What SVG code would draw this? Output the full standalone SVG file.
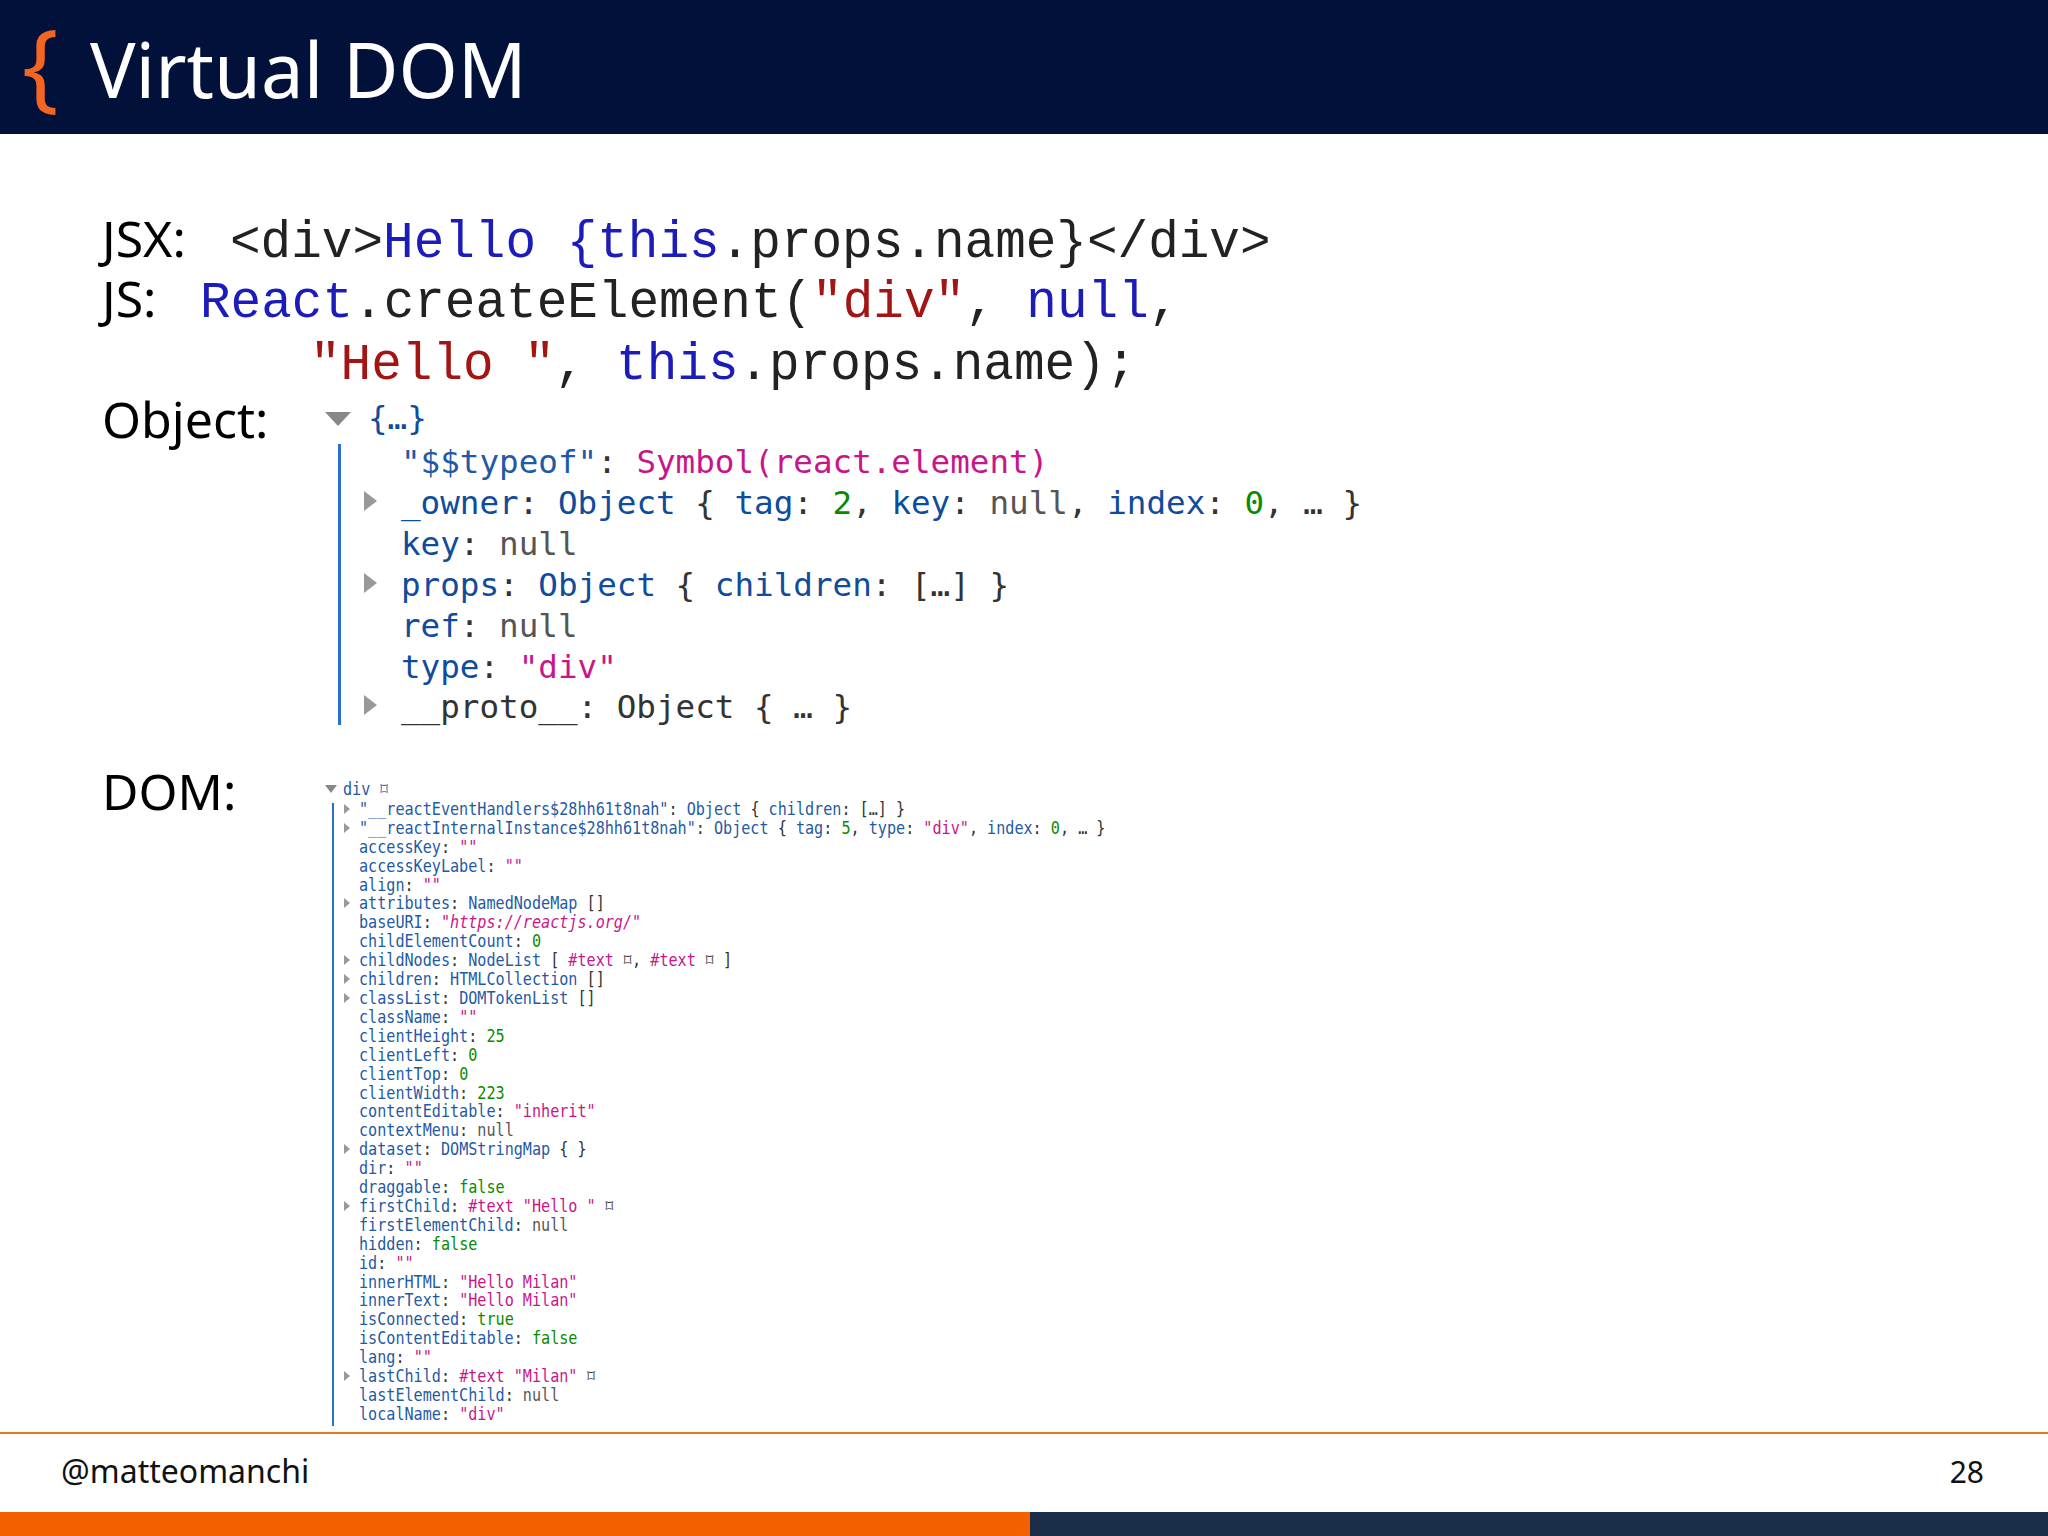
<svg xmlns="http://www.w3.org/2000/svg" width="2048" height="1536" viewBox="0 0 2048 1536">
<style>
.s{font-family:"Noto Sans","Liberation Sans",sans-serif;fill:#000;font-size:50px}
.c{font-family:"Liberation Mono","Courier New",monospace;font-size:51px;fill:#222}
.b{fill:#1c1cb8}.r{fill:#a31515}
.o{font-family:"DejaVu Sans Mono","Liberation Mono",monospace;font-size:32.6px;fill:#0f4c9c}
.d{font-family:"DejaVu Sans Mono","Liberation Mono",monospace;font-size:17px;fill:#1f5aa6}
.k{fill:#1f5aa6}.m{fill:#c8168a}.g{fill:#0a8a00}.n{fill:#555}.p{fill:#333}
</style>
<rect x="0" y="0" width="2048" height="134" fill="#02113a"/>
<text x="22" y="100" font-family="Noto Sans,sans-serif" font-size="96" fill="#f26522">{</text>
<text x="90" y="98" font-family="Noto Sans,Liberation Sans,sans-serif" font-size="76" fill="#fff">Virtual DOM</text>

<g id="code" xml:space="preserve">
<text x="102" y="257" class="s">JSX:</text>
<text x="230" y="257" class="c">&lt;div&gt;<tspan class="b">Hello {this</tspan>.props.name}&lt;/div&gt;</text>
<text x="102" y="317" class="s">JS:</text>
<text x="200" y="317" class="c"><tspan class="b">React</tspan>.createElement(<tspan class="r">"div"</tspan>, <tspan class="b">null</tspan>,</text>
<text x="310" y="379" class="c"><tspan class="r">"Hello "</tspan>, <tspan class="b">this</tspan>.props.name);</text>
<text x="102" y="438" class="s">Object:</text>
<text x="102" y="810" class="s">DOM:</text>
</g>

<g id="object" xml:space="preserve">
<polygon points="325,412 351,412 338,426" fill="#888"/>
<text x="368" y="429" class="o">{…}</text>
<rect x="338" y="444" width="3" height="281" fill="#2a6fd0"/>
<text x="401" y="473" class="o"><tspan class="k">"$$typeof"</tspan><tspan class="p">: </tspan><tspan class="m">Symbol(react.element)</tspan></text>
<polygon points="364,491 364,511 377,501" fill="#999"/>
<text x="401" y="514" class="o">_owner<tspan class="p">: </tspan>Object <tspan class="p">{ </tspan>tag<tspan class="p">: </tspan><tspan class="g">2</tspan><tspan class="p">, </tspan>key<tspan class="p">: </tspan><tspan class="n">null</tspan><tspan class="p">, </tspan>index<tspan class="p">: </tspan><tspan class="g">0</tspan><tspan class="p">, … }</tspan></text>
<text x="401" y="555" class="o">key<tspan class="p">: </tspan><tspan class="n">null</tspan></text>
<polygon points="364,573 364,593 377,583" fill="#999"/>
<text x="401" y="596" class="o">props<tspan class="p">: </tspan>Object <tspan class="p">{ </tspan>children<tspan class="p">: […] }</tspan></text>
<text x="401" y="637" class="o">ref<tspan class="p">: </tspan><tspan class="n">null</tspan></text>
<text x="401" y="678" class="o">type<tspan class="p">: </tspan><tspan class="m">"div"</tspan></text>
<polygon points="364,695 364,715 377,705" fill="#999"/>
<text x="401" y="718" class="o"><tspan class="p">__proto__: Object { … }</tspan></text>
</g>

<g id="dom" xml:space="preserve">
<polygon points="325,785 337,785 331,793" fill="#888"/>
<rect x="332" y="803" width="2" height="623" fill="#2a6fd0"/>
<g transform="translate(343,0) scale(0.89,1)">
<text x="0" y="795" class="d">div ⌑</text>
</g>
<g fill="#999">
<polygon points="344,804 344,814 350,809"/><polygon points="344,823 344,833 350,828"/>
<polygon points="344,898 344,908 350,903"/><polygon points="344,955 344,965 350,960"/>
<polygon points="344,974 344,984 350,979"/><polygon points="344,993 344,1003 350,998"/>
<polygon points="344,1144 344,1154 350,1149"/><polygon points="344,1201 344,1211 350,1206"/>
<polygon points="344,1371 344,1381 350,1376"/>
</g>
<g transform="translate(359,0) scale(0.89,1)">
<text x="0" y="815" class="d">"__reactEventHandlers$28hh61t8nah"<tspan class="p">: </tspan>Object <tspan class="p">{ </tspan>children<tspan class="p">: […] }</tspan></text>
<text x="0" y="834" class="d">"__reactInternalInstance$28hh61t8nah"<tspan class="p">: </tspan>Object <tspan class="p">{ </tspan>tag<tspan class="p">: </tspan><tspan class="g">5</tspan><tspan class="p">, </tspan>type<tspan class="p">: </tspan><tspan class="m">"div"</tspan><tspan class="p">, </tspan>index<tspan class="p">: </tspan><tspan class="g">0</tspan><tspan class="p">, … }</tspan></text>
<text x="0" y="853" class="d">accessKey<tspan class="p">: </tspan><tspan class="m">""</tspan></text>
<text x="0" y="872" class="d">accessKeyLabel<tspan class="p">: </tspan><tspan class="m">""</tspan></text>
<text x="0" y="891" class="d">align<tspan class="p">: </tspan><tspan class="m">""</tspan></text>
<text x="0" y="909" class="d">attributes<tspan class="p">: </tspan>NamedNodeMap <tspan class="p">[]</tspan></text>
<text x="0" y="928" class="d">baseURI<tspan class="p">: </tspan><tspan class="m">"<tspan font-style="italic">https://reactjs.org/</tspan>"</tspan></text>
<text x="0" y="947" class="d">childElementCount<tspan class="p">: </tspan><tspan class="g">0</tspan></text>
<text x="0" y="966" class="d">childNodes<tspan class="p">: </tspan>NodeList <tspan class="p">[ </tspan><tspan class="m">#text</tspan><tspan class="p"> ⌑, </tspan><tspan class="m">#text</tspan><tspan class="p"> ⌑ ]</tspan></text>
<text x="0" y="985" class="d">children<tspan class="p">: </tspan>HTMLCollection <tspan class="p">[]</tspan></text>
<text x="0" y="1004" class="d">classList<tspan class="p">: </tspan>DOMTokenList <tspan class="p">[]</tspan></text>
<text x="0" y="1023" class="d">className<tspan class="p">: </tspan><tspan class="m">""</tspan></text>
<text x="0" y="1042" class="d">clientHeight<tspan class="p">: </tspan><tspan class="g">25</tspan></text>
<text x="0" y="1061" class="d">clientLeft<tspan class="p">: </tspan><tspan class="g">0</tspan></text>
<text x="0" y="1080" class="d">clientTop<tspan class="p">: </tspan><tspan class="g">0</tspan></text>
<text x="0" y="1099" class="d">clientWidth<tspan class="p">: </tspan><tspan class="g">223</tspan></text>
<text x="0" y="1117" class="d">contentEditable<tspan class="p">: </tspan><tspan class="m">"inherit"</tspan></text>
<text x="0" y="1136" class="d">contextMenu<tspan class="p">: </tspan><tspan class="n">null</tspan></text>
<text x="0" y="1155" class="d">dataset<tspan class="p">: </tspan>DOMStringMap <tspan class="p">{  }</tspan></text>
<text x="0" y="1174" class="d">dir<tspan class="p">: </tspan><tspan class="m">""</tspan></text>
<text x="0" y="1193" class="d">draggable<tspan class="p">: </tspan><tspan class="g">false</tspan></text>
<text x="0" y="1212" class="d">firstChild<tspan class="p">: </tspan><tspan class="m">#text "Hello "</tspan><tspan class="p"> ⌑</tspan></text>
<text x="0" y="1231" class="d">firstElementChild<tspan class="p">: </tspan><tspan class="n">null</tspan></text>
<text x="0" y="1250" class="d">hidden<tspan class="p">: </tspan><tspan class="g">false</tspan></text>
<text x="0" y="1269" class="d">id<tspan class="p">: </tspan><tspan class="m">""</tspan></text>
<text x="0" y="1288" class="d">innerHTML<tspan class="p">: </tspan><tspan class="m">"Hello Milan"</tspan></text>
<text x="0" y="1306" class="d">innerText<tspan class="p">: </tspan><tspan class="m">"Hello Milan"</tspan></text>
<text x="0" y="1325" class="d">isConnected<tspan class="p">: </tspan><tspan class="g">true</tspan></text>
<text x="0" y="1344" class="d">isContentEditable<tspan class="p">: </tspan><tspan class="g">false</tspan></text>
<text x="0" y="1363" class="d">lang<tspan class="p">: </tspan><tspan class="m">""</tspan></text>
<text x="0" y="1382" class="d">lastChild<tspan class="p">: </tspan><tspan class="m">#text "Milan"</tspan><tspan class="p"> ⌑</tspan></text>
<text x="0" y="1401" class="d">lastElementChild<tspan class="p">: </tspan><tspan class="n">null</tspan></text>
<text x="0" y="1420" class="d">localName<tspan class="p">: </tspan><tspan class="m">"div"</tspan></text>
</g>
</g>

<rect x="0" y="1432" width="2048" height="2" fill="#e87722"/>
<text x="61" y="1483" font-family="Noto Sans,Liberation Sans,sans-serif" font-size="32" fill="#111">@matteomanchi</text>
<text x="1984" y="1483" font-family="Noto Sans,Liberation Sans,sans-serif" font-size="30" fill="#111" text-anchor="end">28</text>
<rect x="0" y="1512" width="1030" height="24" fill="#f26000"/>
<rect x="1030" y="1512" width="1018" height="24" fill="#1a2e4a"/>
</svg>
